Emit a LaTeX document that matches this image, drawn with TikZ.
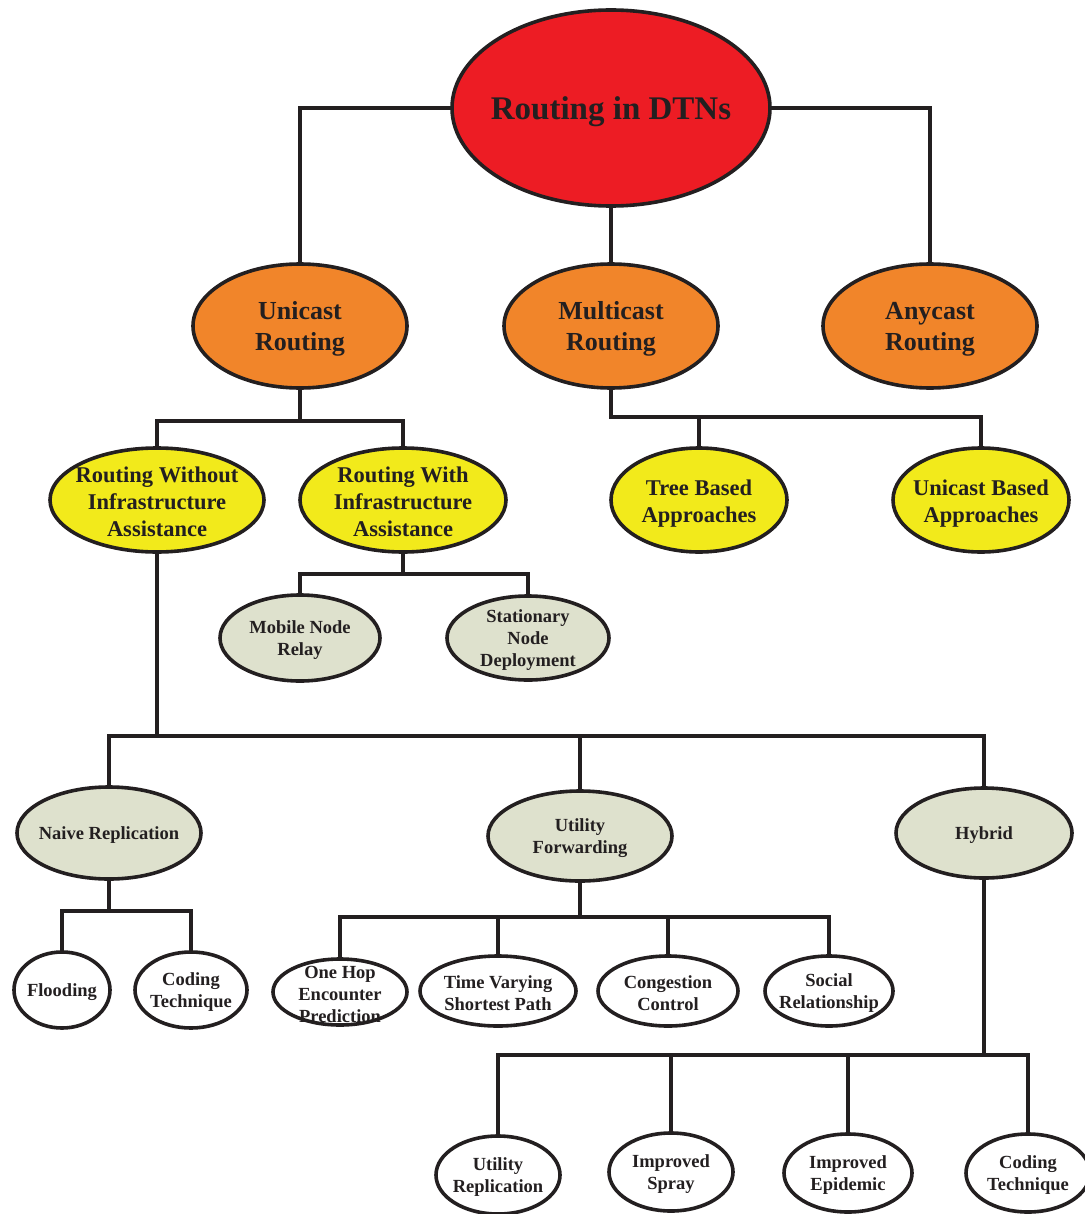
\documentclass[tikz,border=0pt]{standalone}
\usepackage{fontspec}
\setmainfont{Liberation Serif}
\usetikzlibrary{shapes.geometric,backgrounds}
\definecolor{rootred}{HTML}{ED1C24}
\definecolor{orangefill}{HTML}{F1852A}
\definecolor{yellowfill}{HTML}{F2EA1B}
\definecolor{sagefill}{HTML}{DEE1CD}
\definecolor{ink}{HTML}{231F20}
\begin{document}
\begin{tikzpicture}[x=1pt,y=-1pt,
  oval/.style={ellipse,draw=ink,line width=3.6pt,inner sep=0pt},
  rootoval/.style={oval,fill=rootred},
  orangeoval/.style={oval,fill=orangefill},
  yellowoval/.style={oval,fill=yellowfill},
  sageoval/.style={oval,fill=sagefill},
  whiteoval/.style={oval,fill=white},
  txt/.style={align=center,text=ink,inner sep=0pt,font=\bfseries,yshift=-2pt},
  txtA/.style={txt,font=\fontsize{33}{38}\selectfont\bfseries,yshift=-2pt},
  txtB/.style={txt,font=\fontsize{26}{31}\selectfont\bfseries,yshift=-1pt},
  txtC/.style={txt,font=\fontsize{22.5}{27}\selectfont\bfseries},
  txtD/.style={txt,font=\fontsize{18.5}{22}\selectfont\bfseries},
  conn/.style={draw=ink,line width=3.6pt,line cap=rect,line join=miter},
]
\useasboundingbox (0,0) rectangle (1084,1214);

% level 0
\node[rootoval,minimum width=318,minimum height=196,label={[txtA]center:Routing in DTNs}] (root) at (611,108) {};

% level 1
\node[orangeoval,minimum width=214,minimum height=124,label={[txtB]center:{Unicast\\Routing}}] (unicast) at (300,326) {};
\node[orangeoval,minimum width=214,minimum height=124,label={[txtB]center:{Multicast\\Routing}}] (multicast) at (611,326) {};
\node[orangeoval,minimum width=214,minimum height=124,label={[txtB]center:{Anycast\\Routing}}] (anycast) at (930,326) {};

% level 2
\node[yellowoval,minimum width=214,minimum height=104,label={[txtC]center:{Routing Without\\Infrastructure\\Assistance}}] (rwo) at (157,500) {};
\node[yellowoval,minimum width=206,minimum height=104,label={[txtC]center:{Routing With\\Infrastructure\\Assistance}}] (rw) at (403,500) {};
\node[yellowoval,minimum width=176,minimum height=104,label={[txtC,yshift=-2pt]center:{Tree Based\\Approaches}}] (tree) at (699,500) {};
\node[yellowoval,minimum width=176,minimum height=104,label={[txtC,yshift=-2pt]center:{Unicast Based\\Approaches}}] (ubased) at (981,500) {};

% infrastructure-assisted
\node[sageoval,minimum width=160,minimum height=86,label={[txtD]center:{Mobile Node\\Relay}}] (mobile) at (300,638) {};
\node[sageoval,minimum width=162,minimum height=84,label={[txtD]center:{Stationary\\Node\\Deployment}}] (stat) at (528,638) {};

% level 3
\node[sageoval,minimum width=184,minimum height=92,label={[txtD]center:Naive Replication}] (naive) at (109,833) {};
\node[sageoval,minimum width=184,minimum height=90,label={[txtD]center:{Utility\\Forwarding}}] (utilf) at (580,836) {};
\node[sageoval,minimum width=176,minimum height=90,label={[txtD]center:Hybrid}] (hybrid) at (984,833) {};

% level 4
\node[whiteoval,minimum width=96,minimum height=76,label={[txtD]center:Flooding}] (flood) at (62,990) {};
\node[whiteoval,minimum width=112,minimum height=76,label={[txtD]center:{Coding\\Technique}}] (codingA) at (191,990) {};
\node[whiteoval,minimum width=134,minimum height=66,label={[txtD]center:{One Hop\\Encounter\\Prediction}}] (onehop) at (340,992) {};
\node[whiteoval,minimum width=156,minimum height=70,label={[txtD]center:{Time Varying\\Shortest Path}}] (timev) at (498,991) {};
\node[whiteoval,minimum width=140,minimum height=70,label={[txtD]center:{Congestion\\Control}}] (cong) at (668,991) {};
\node[whiteoval,minimum width=128,minimum height=70,label={[txtD]center:{Social\\Relationship}}] (social) at (829,991) {};

% level 5
\node[whiteoval,minimum width=124,minimum height=78,label={[txtD]center:{Utility\\Replication}}] (urep) at (498,1175) {};
\node[whiteoval,minimum width=124,minimum height=78,label={[txtD]center:{Improved\\Spray}}] (ispray) at (671,1172) {};
\node[whiteoval,minimum width=128,minimum height=78,label={[txtD]center:{Improved\\Epidemic}}] (iepid) at (848,1173) {};
\node[whiteoval,minimum width=124,minimum height=78,label={[txtD]center:{Coding\\Technique}}] (codingB) at (1028,1173) {};

% branch points of the buses
\coordinate (busU) at (300,421);
\coordinate (busM) at (611,417);
\coordinate (busW) at (403,574);
\coordinate (busR) at (157,736);
\coordinate (busN) at (109,911);
\coordinate (busF) at (580,917);
\coordinate (busH) at (984,1055);

\begin{pgfonlayer}{background}
  \draw[conn] (root.west) -| (unicast.north);
  \draw[conn] (root.east) -| (anycast.north);
  \draw[conn] (root.south) -- (multicast.north);

  \draw[conn] (unicast.south) -- (busU);
  \draw[conn] (rwo.north) |- (busU) -| (rw.north);

  \draw[conn] (multicast.south) -- (busM) -| (ubased.north);
  \draw[conn] (busM) -| (tree.north);

  \draw[conn] (rw.south) -- (busW);
  \draw[conn] (mobile.north) |- (busW) -| (stat.north);

  \draw[conn] (rwo.south) -- (busR);
  \draw[conn] (naive.north) |- (busR) -| (hybrid.north);
  \draw[conn] (busR) -| (utilf.north);

  \draw[conn] (naive.south) -- (busN);
  \draw[conn] (flood.north) |- (busN) -| (codingA.north);

  \draw[conn] (utilf.south) -- (busF);
  \draw[conn] (onehop.north) |- (busF) -| (social.north);
  \draw[conn] (busF) -| (timev.north);
  \draw[conn] (busF) -| (cong.north);

  \draw[conn] (hybrid.south) -- (busH);
  \draw[conn] (urep.north) |- (busH) -| (codingB.north);
  \draw[conn] (busH) -| (ispray.north);
  \draw[conn] (busH) -| (iepid.north);
\end{pgfonlayer}
\end{tikzpicture}
\end{document}
